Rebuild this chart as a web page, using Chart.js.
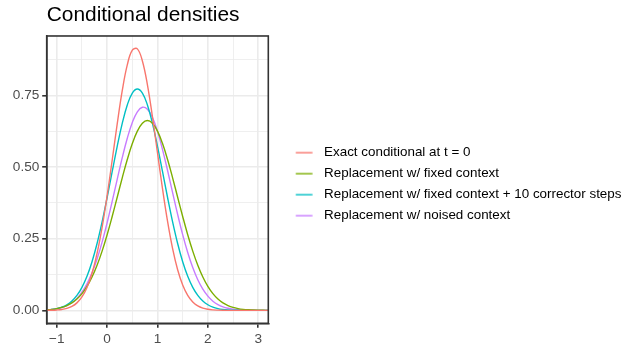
<!DOCTYPE html>
<html>
<head>
<meta charset="utf-8">
<script src="https://cdn.jsdelivr.net/npm/chart.js@4.4.1/dist/chart.umd.min.js"></script>
<style>
html,body{margin:0;padding:0;background:#ffffff;}
#wrap{width:639px;height:352px;position:relative;}
canvas{display:block;}
</style>
</head>
<body>
<div id="wrap"><canvas id="c" width="639" height="352"></canvas></div>
<script>
// ---- data ----
const xValues = [-1.2,-1.1,-1.0,-0.9,-0.8,-0.7,-0.6,-0.5,-0.4,-0.3,-0.2,-0.1,0.0,0.1,0.2,0.3,0.4,0.5,0.6,0.7,0.8,0.9,1.0,1.1,1.2,1.3,1.4,1.5,1.6,1.7,1.8,1.9,2.0,2.1,2.2,2.3,2.4,2.5,2.6,2.7,2.8,2.9,3.0,3.1,3.2];
const exactConditional = [0.0003,0.0006,0.0015,0.0033,0.0069,0.0138,0.0262,0.0470,0.0802,0.1298,0.1991,0.2897,0.3999,0.5237,0.6504,0.7662,0.8561,0.9073,0.9121,0.8698,0.7867,0.6748,0.5492,0.4239,0.3103,0.2155,0.1419,0.0887,0.0526,0.0295,0.0158,0.0080,0.0038,0.0017,0.0008,0.0003,0.0001,0,0,0,0,0,0,0,0];
const fixedContext = [0.0021,0.0037,0.0063,0.0104,0.0168,0.0261,0.0396,0.0584,0.0837,0.1165,0.1574,0.2068,0.2640,0.3275,0.3947,0.4623,0.5261,0.5817,0.6250,0.6526,0.6620,0.6526,0.6250,0.5817,0.5261,0.4623,0.3947,0.3275,0.2640,0.2068,0.1574,0.1165,0.0837,0.0584,0.0396,0.0261,0.0168,0.0104,0.0063,0.0037,0.0021,0.0012,0.0006,0.0003,0.0002];
const fixedContextCorrector = [0.0018,0.0035,0.0064,0.0115,0.0197,0.0327,0.0522,0.0803,0.1189,0.1697,0.2332,0.3087,0.3937,0.4837,0.5723,0.6524,0.7164,0.7577,0.7720,0.7577,0.7164,0.6524,0.5723,0.4837,0.3937,0.3087,0.2332,0.1697,0.1189,0.0803,0.0522,0.0327,0.0197,0.0115,0.0064,0.0035,0.0018,0.0009,0.0004,0.0002,0.0001,0,0,0,0];
const noisedContext = [0.0018,0.0033,0.0058,0.0100,0.0167,0.0269,0.0419,0.0633,0.0926,0.1310,0.1795,0.2380,0.3056,0.3799,0.4571,0.5325,0.6004,0.6554,0.6926,0.7085,0.7017,0.6727,0.6243,0.5609,0.4878,0.4107,0.3347,0.2641,0.2017,0.1492,0.1068,0.0740,0.0496,0.0322,0.0203,0.0123,0.0073,0.0041,0.0023,0.0012,0.0006,0.0003,0.0002,0.0001,0];

const seriesLabels = ['Exact conditional at t = 0','Replacement w/ fixed context','Replacement w/ fixed context + 10 corrector steps','Replacement w/ noised context'];
const seriesValues = [exactConditional, fixedContext, fixedContextCorrector, noisedContext];
const seriesColors = ['#F8766D','#7CAE00','#00BFC4','#C77CFF'];

const xMajorTicks = [-1,0,1,2,3];
const xTickLabels = ['\u22121','0','1','2','3'];
const xMinorTicks = [-0.5,0.5,1.5,2.5];
const yMajorTicks = [0,0.25,0.5,0.75];
const yTickLabels = ['0.00','0.25','0.50','0.75'];
const yMinorTicks = [0.125,0.375,0.625,0.875];
const titleText = 'Conditional densities';

// ---- styling / layout ----
const FONT = "'Liberation Sans', Arial, Helvetica, sans-serif";
const AREA = {left:46.7, right:268.3, top:36, bottom:323.3};
const GRID = '#EBEBEB', DARK = '#333333', AXTXT = '#4D4D4D';
const KEY_W = 41.5, KEY_A = 20.1, KEY_LEN = 16.7;

function keyImage(color){
  const c = document.createElement('canvas');
  c.width = 42; c.height = 6;
  const g = c.getContext('2d');
  g.strokeStyle = color; g.lineWidth = 1.4;
  g.beginPath(); g.moveTo(KEY_A, 3); g.lineTo(KEY_A + KEY_LEN, 3); g.stroke();
  return c;
}
function isIn(list, v){ return list.some(t => Math.abs(t - v) < 1e-9); }

const datasets = seriesLabels.map((label, i) => ({
  label,
  data: xValues.map((x, j) => ({x, y: seriesValues[i][j]})),
  borderColor: seriesColors[i],
  backgroundColor: seriesColors[i],
  borderWidth: 1.4,
  pointRadius: 0,
  pointHoverRadius: 0,
  pointStyle: keyImage(seriesColors[i]),
  tension: 0.4,
  fill: false
}));

const panelBorder = {
  id: 'panelBorder',
  afterDatasetsDraw(chart){
    const {ctx, chartArea:a} = chart;
    ctx.save();
    ctx.strokeStyle = DARK; ctx.lineWidth = 1.6;
    ctx.strokeRect(a.left, a.top, a.right - a.left, a.bottom - a.top);
    ctx.restore();
  }
};

const chart = new Chart(document.getElementById('c'), {
  type: 'line',
  data: {datasets},
  options: {
    responsive: false,
    animation: false,
    devicePixelRatio: 1,
    events: [],
    layout: {padding: {left: 0, right: 10, top: 0, bottom: 0}},
    plugins: {
      tooltip: {enabled: false},
      title: {
        display: true, text: titleText, align: 'start', fullSize: false,
        color: '#000000', font: {family: FONT, size: 20.9, weight: 'normal', lineHeight: 1.2},
        padding: {top: 3.0, bottom: 7.9}
      },
      legend: {
        position: 'right', align: 'center', maxWidth: 440,
        title: {display: true, text: '', font: {size: 10, lineHeight: 1}, padding: {top: 0, bottom: 6.3}},
        labels: {
          usePointStyle: true, pointStyleWidth: KEY_W, padding: 7.6,
          color: '#000000', font: {family: FONT, size: 13.4}
        }
      }
    },
    scales: {
      x: {
        type: 'linear', position: 'bottom', min: -1.2, max: 3.2,
        afterBuildTicks: s => { s.ticks = [...xMajorTicks, ...xMinorTicks].sort((a,b)=>a-b).map(v => ({value: v})); },
        afterFit: s => { s.height = 352 - AREA.bottom; },
        ticks: {
          autoSkip: false, maxRotation: 0, padding: 3, color: AXTXT,
          font: {family: FONT, size: 13.6},
          callback: v => { const i = xMajorTicks.findIndex(t => Math.abs(t - v) < 1e-9); return i >= 0 ? xTickLabels[i] : ''; }
        },
        grid: {
          color: GRID,
          lineWidth: c => isIn(xMajorTicks, c.tick.value) ? 1.6 : 0.8,
          drawTicks: true, tickLength: 4.5,
          tickColor: c => isIn(xMajorTicks, c.tick.value) ? DARK : 'rgba(0,0,0,0)',
          tickWidth: 1.6
        },
        border: {display: true, color: DARK, width: 1.6}
      },
      y: {
        type: 'linear', position: 'left', min: -0.045, max: 0.957,
        afterBuildTicks: s => { s.ticks = [...yMajorTicks, ...yMinorTicks].sort((a,b)=>a-b).map(v => ({value: v})); },
        afterFit: s => { s.width = AREA.left; },
        ticks: {
          autoSkip: false, padding: 2.9, color: AXTXT,
          font: {family: FONT, size: 13.6},
          callback: v => { const i = yMajorTicks.findIndex(t => Math.abs(t - v) < 1e-9); return i >= 0 ? yTickLabels[i] : ''; }
        },
        grid: {
          color: GRID,
          lineWidth: c => isIn(yMajorTicks, c.tick.value) ? 1.6 : 0.8,
          drawTicks: true, tickLength: 4.5,
          tickColor: c => isIn(yMajorTicks, c.tick.value) ? DARK : 'rgba(0,0,0,0)',
          tickWidth: 1.6
        },
        border: {display: true, color: DARK, width: 1.6}
      }
    }
  },
  plugins: [panelBorder]
});

// fine-tune the right padding so the panel ends where the reference's does
for (let k = 0; k < 5; k++) {
  const d = chart.chartArea.right - AREA.right;
  if (Math.abs(d) < 0.05) break;
  chart.options.layout.padding.right += d;
  chart.update('none');
}
</script>
</body>
</html>
